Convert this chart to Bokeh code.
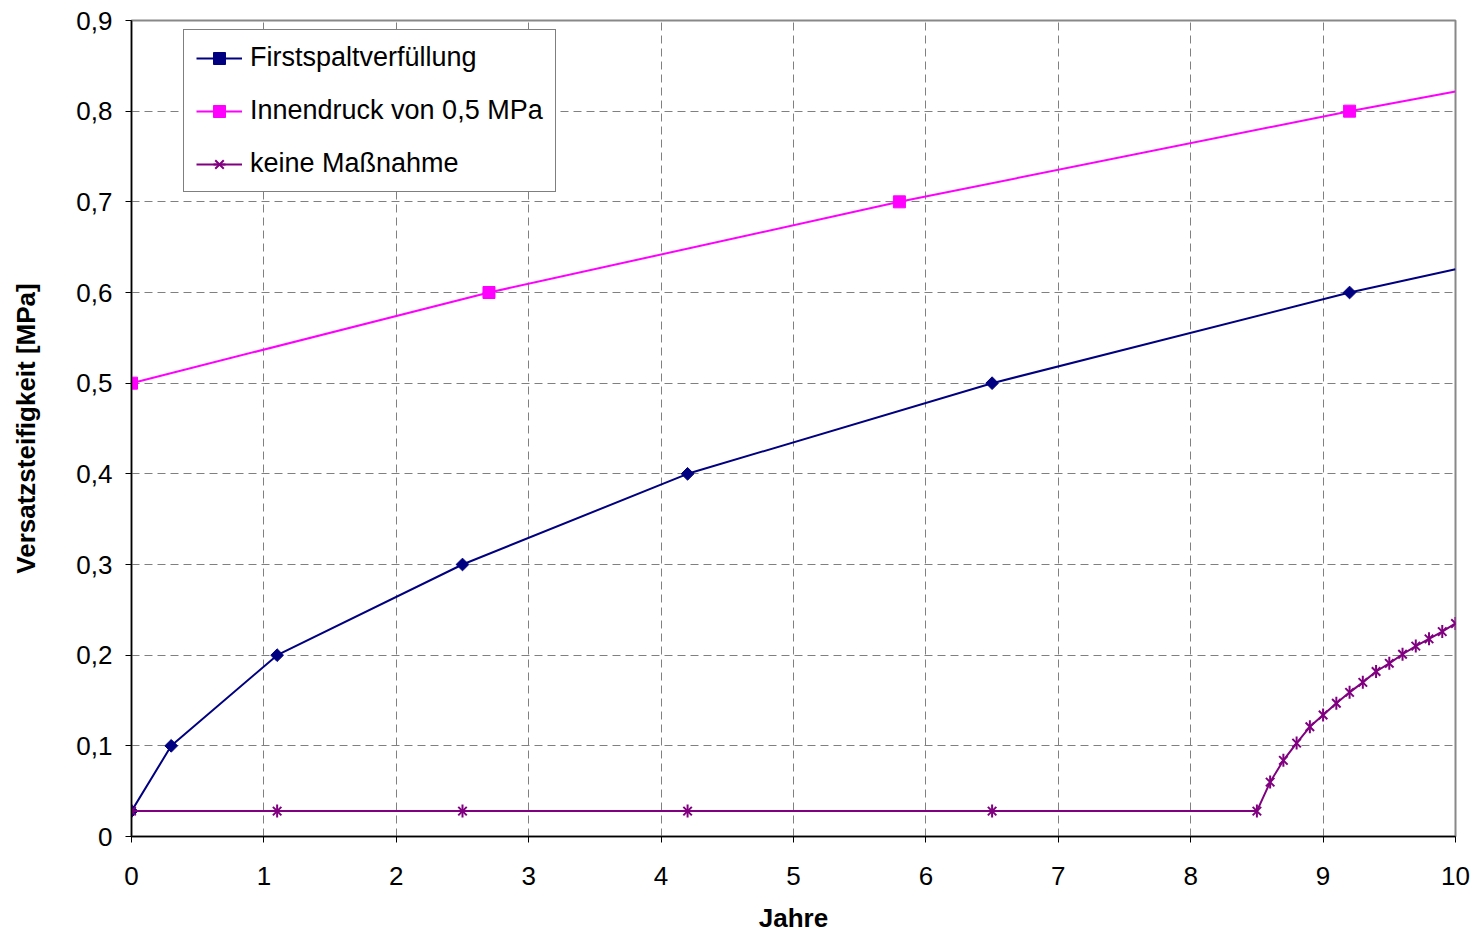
import math
from bokeh.plotting import figure
from bokeh.models import Range1d, FixedTicker
from bokeh.embed import file_html
from bokeh.resources import INLINE

# Data
first_x = [0, 0.3, 1.1, 2.5, 4.2, 6.5, 9.2, 10.0]
first_y = [0.028, 0.1, 0.2, 0.3, 0.4, 0.5, 0.6, 0.6256]
first_mx = [0, 0.3, 1.1, 2.5, 4.2, 6.5, 9.2]
first_my = [0.028, 0.1, 0.2, 0.3, 0.4, 0.5, 0.6]

innen_x = [0, 2.7, 5.8, 9.2, 10.0]
innen_y = [0.5, 0.6, 0.7, 0.8, 0.8216]
innen_mx = [0, 2.7, 5.8, 9.2]
innen_my = [0.5, 0.6, 0.7, 0.8]

keine_x = [0, 1.1, 2.5, 4.2, 6.5, 8.5, 8.6, 8.7, 8.8, 8.9, 9.0, 9.1, 9.2, 9.3,
           9.4, 9.5, 9.6, 9.7, 9.8, 9.9, 10.0]
keine_y = [0.028, 0.028, 0.028, 0.028, 0.028, 0.028, 0.060, 0.084, 0.103, 0.121,
           0.134, 0.147, 0.159, 0.170, 0.182, 0.191, 0.201, 0.210, 0.218, 0.226, 0.235]

x_ticks = [0, 1, 2, 3, 4, 5, 6, 7, 8, 9, 10]
y_ticks = [0, 0.1, 0.2, 0.3, 0.4, 0.5, 0.6, 0.7, 0.8, 0.9]
y_labels = ["0", "0,1", "0,2", "0,3", "0,4", "0,5", "0,6", "0,7", "0,8", "0,9"]

FONT = "Liberation Sans"

p = figure(width=1475, height=935, output_backend="svg", toolbar_location=None,
           x_range=Range1d(0, 10), y_range=Range1d(0, 0.9),
           min_border_left=131, min_border_right=20, min_border_top=20, min_border_bottom=97)
p.background_fill_color = "white"
p.border_fill_color = "white"
p.outline_line_color = "#888888"
p.outline_line_width = 2

for ax in (p.xaxis[0], p.yaxis[0]):
    ax.axis_line_color = "black"
    ax.axis_line_width = 1.5
    ax.major_tick_line_color = "black"
    ax.major_tick_out = 6
    ax.major_tick_in = 0
    ax.minor_tick_line_color = None
    ax.major_label_text_font = FONT
    ax.major_label_text_font_size = "26px"
    ax.major_label_text_color = "black"
    ax.axis_label_text_font = FONT
    ax.axis_label_text_font_size = "26px"
    ax.axis_label_text_font_style = "bold"
    ax.axis_label_text_color = "black"

p.xaxis.ticker = FixedTicker(ticks=x_ticks)
p.yaxis.ticker = FixedTicker(ticks=y_ticks)
p.yaxis.major_label_overrides = {t: l for t, l in zip(y_ticks, y_labels)}
p.xaxis.axis_label = "Jahre"
p.yaxis.axis_label = "Versatzsteifigkeit [MPa]"
p.xaxis.major_label_standoff = 24
p.yaxis.major_label_standoff = 13
p.xaxis.axis_label_standoff = 15
p.yaxis.axis_label_standoff = 32

p.grid.grid_line_color = "#808080"
p.grid.grid_line_dash = "8 5"
p.grid.grid_line_width = 1

NAVY = "#000080"
MAG = "#FF00FF"
PURP = "#800080"

L1 = "Firstspaltverfüllung"
L2 = "Innendruck von 0,5 MPa"
L3 = "keine Maßnahme"

p.line(first_x, first_y, color=NAVY, line_width=2, legend_label=L1)
p.scatter(first_mx, first_my, marker="square", angle=math.pi / 4, size=9, color=NAVY, legend_label=L1)

p.line(innen_x, innen_y, color=MAG, line_width=2, legend_label=L2)
p.scatter(innen_mx, innen_my, marker="square", size=12, color=MAG, legend_label=L2)

p.line(keine_x, keine_y, color=PURP, line_width=2, legend_label=L3)
p.scatter(keine_x, keine_y, marker="x", size=12, line_color=PURP, line_width=2, legend_label=L3)
p.scatter(keine_x, keine_y, marker="dash", angle=math.pi / 2, size=13, line_color=PURP,
          line_width=2, legend_label=L3)

lg = p.legend[0]
lg.location = (52, 644)
lg.margin = 0
lg.padding = 12
lg.spacing = 22
lg.label_height = 30
lg.glyph_height = 30
lg.glyph_width = 46
lg.label_standoff = 8
lg.label_text_font = FONT
lg.label_text_font_size = "27px"
lg.label_text_color = "black"
lg.border_line_color = "black"
lg.border_line_width = 1
lg.background_fill_color = "white"
lg.background_fill_alpha = 1.0

open("out.html", "w").write(file_html(p, INLINE))
